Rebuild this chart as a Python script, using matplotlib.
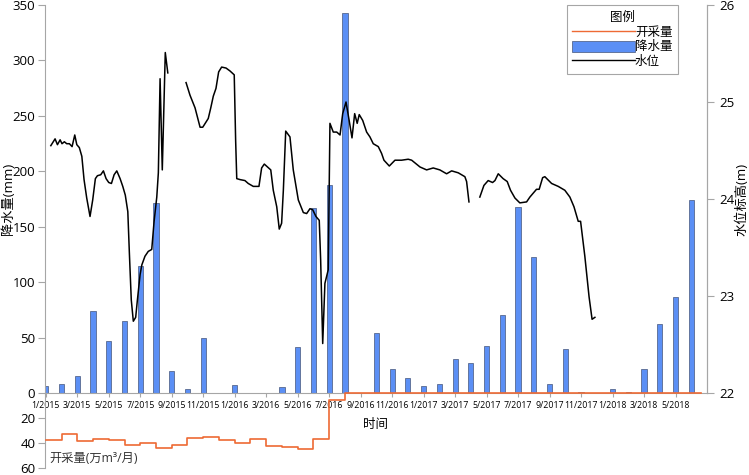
import numpy as np
import matplotlib
matplotlib.use('Agg')
import matplotlib.pyplot as plt
from matplotlib.lines import Line2D
from matplotlib.patches import Patch

plt.rcParams['font.family'] = ['Open Sans', 'Noto Sans CJK SC', 'DejaVu Sans']

# month index 0 = 1/2015
tick_labels = ['1/2015', '3/2015', '5/2015', '7/2015', '9/2015', '11/2015',
               '1/2016', '3/2016', '5/2016', '7/2016', '9/2016', '11/2016',
               '1/2017', '3/2017', '5/2017', '7/2017', '9/2017', '11/2017',
               '1/2018', '3/2018', '5/2018']

# monthly rainfall, 1/2015 .. 6/2018 (mm)
rain = [6.4, 8.5, 15.4, 74, 46.7, 65, 115, 171, 19.7, 3.7, 50, 0,
        7.6, 0, 0, 5, 41.6, 167, 187.5, 343, 0, 54.3, 22.1, 13.1,
        6.1, 7.7, 31.1, 27.2, 42.2, 70.6, 167.4, 122.3, 7.9, 39.3, 0.7, 0.2,
        3.4, 1.3, 22.1, 62.4, 86.8, 174.3]

# monthly extraction (10^4 m3/month)
pumping = [37.5, 33, 38.3, 36.5, 37.8, 41.5, 40, 44, 41.5, 36, 35, 37.5,
           39.6, 36.5, 42.3, 42.8, 45, 37, 5.5] + [0] * 23

# groundwater level (m), x in months since 1/2015
wl_seg1_x = [0.32, 0.59, 0.74, 0.91, 1.03, 1.18, 1.33, 1.50, 1.67, 1.84, 1.97,
             2.13, 2.29, 2.43, 2.60, 2.81, 2.98, 3.15, 3.28, 3.49, 3.66, 3.83,
             4.00, 4.17, 4.34, 4.51, 4.72, 4.89, 5.05, 5.21, 5.31, 5.43, 5.56,
             5.71, 5.82, 5.99, 6.10, 6.30, 6.51, 6.73, 6.88, 7.05, 7.15, 7.26,
             7.40, 7.59, 7.75]
wl_seg1_y = [24.55, 24.62, 24.56, 24.61, 24.57, 24.59, 24.57, 24.57, 24.54,
             24.66, 24.56, 24.53, 24.44, 24.20, 24.01, 23.82, 23.99, 24.21,
             24.24, 24.25, 24.29, 24.21, 24.17, 24.16, 24.25, 24.29, 24.21,
             24.13, 24.04, 23.87, 23.44, 22.96, 22.74, 22.78, 22.96, 23.22,
             23.32, 23.41, 23.46, 23.48, 23.77, 24.02, 24.27, 25.24, 24.30,
             25.51, 25.30]

wl_seg2_x = [8.91, 9.16, 9.48, 9.80, 9.97, 10.32, 10.48, 10.64, 10.81, 10.98,
             11.17, 11.45, 11.70, 11.97, 12.06, 12.13, 12.34, 12.65, 12.86,
             13.18, 13.54, 13.71, 13.88, 14.29, 14.45, 14.67, 14.83, 14.98,
             15.09, 15.24, 15.51, 15.72, 16.04, 16.36, 16.57, 16.78, 16.95,
             17.16, 17.37, 17.46, 17.59, 17.73, 17.94, 18.05, 18.26, 18.48,
             18.69, 18.86, 19.07, 19.28, 19.45, 19.62, 19.78, 19.91, 20.13,
             20.38, 20.59, 20.80, 21.12, 21.33, 21.48, 21.82, 22.18, 22.60,
             23.02, 23.24, 23.77, 24.19, 24.61, 25.03, 25.46, 25.78, 26.20,
             26.62, 26.73, 26.88]
wl_seg2_y = [25.20, 25.07, 24.94, 24.74, 24.74, 24.83, 24.94, 25.06, 25.14,
             25.31, 25.36, 25.35, 25.32, 25.28, 24.60, 24.21, 24.20, 24.19,
             24.16, 24.13, 24.13, 24.32, 24.36, 24.30, 24.09, 23.92, 23.69,
             23.75, 24.09, 24.70, 24.64, 24.30, 23.99, 23.86, 23.85, 23.90,
             23.89, 23.82, 23.78, 23.37, 22.51, 23.13, 23.27, 24.78, 24.69,
             24.69, 24.66, 24.88, 25.00, 24.80, 24.63, 24.88, 24.78, 24.87,
             24.81, 24.69, 24.64, 24.57, 24.54, 24.47, 24.40, 24.34, 24.40,
             24.40, 24.41, 24.40, 24.33, 24.30, 24.32, 24.30, 24.26, 24.29,
             24.27, 24.23, 24.18, 23.97]

wl_seg3_x = [27.57, 27.83, 28.10, 28.38, 28.53, 28.74, 29.05, 29.31, 29.52,
             29.80, 30.11, 30.54, 30.75, 30.96, 31.17, 31.34, 31.56, 31.70,
             32.13, 32.55, 32.97, 33.29, 33.55, 33.82, 33.97, 34.24, 34.51,
             34.70, 34.88]
wl_seg3_y = [24.02, 24.14, 24.19, 24.17, 24.19, 24.26, 24.21, 24.18, 24.09,
             24.01, 23.96, 23.97, 24.02, 24.06, 24.10, 24.10, 24.22, 24.23,
             24.16, 24.13, 24.09, 24.02, 23.92, 23.77, 23.77, 23.41, 22.99,
             22.76, 22.78]

orange = '#EE6A34'
blue = '#5B8FF5'
grey = '#A6A6A6'

months = np.arange(len(rain))

fig = plt.figure(figsize=(7.49, 4.75), dpi=100)
ax = fig.add_axes([45/749, 1-393/475, 662/749, 388/475])
ax_low = fig.add_axes([45/749, 1-468/475, 662/749, 75/475])
ax_low.patch.set_alpha(0)
ax2 = ax.twinx()

ax.bar(months, rain, width=0.33, color=blue, edgecolor='#45557A', linewidth=0.5)
ax.set_xlim(-0.05, 42)
ax.set_ylim(0, 350)
ax.set_yticks(range(0, 351, 50))
ax.set_xticks(range(0, 41, 2))
ax.set_xticklabels(tick_labels, fontsize=6.3)
ax.tick_params(axis='x', length=3, pad=2.5, color=grey)
ax.tick_params(axis='y', length=5, labelsize=9.5, color=grey, pad=2)
ax.set_ylabel('降水量(mm)', fontsize=9.5)
ax.yaxis.set_label_coords(-0.046, 0.5)
ax.set_xlabel('时间', fontsize=9, labelpad=6)
ax.spines['top'].set_visible(False)
for s in ['left', 'bottom', 'right']:
    ax.spines[s].set_color(grey)

ax2.plot(wl_seg1_x, wl_seg1_y, color='black', lw=1.1)
ax2.plot(wl_seg2_x, wl_seg2_y, color='black', lw=1.1)
ax2.plot(wl_seg3_x, wl_seg3_y, color='black', lw=1.1)
ax2.set_ylim(22, 26)
ax2.set_yticks([22, 23, 24, 25, 26])
ax2.tick_params(axis='y', length=5, labelsize=9.5, color=grey, pad=4)
ax2.set_ylabel('水位标高(m)', fontsize=9.5)
ax2.yaxis.set_label_coords(1.043, 0.5)
ax2.spines['top'].set_visible(False)
ax2.spines['right'].set_color(grey)
ax2.spines['left'].set_visible(False)
ax2.spines['bottom'].set_visible(False)

ax_low.step(list(months) + [41.6], pumping + [0], where='post', color=orange,
            lw=1.2, clip_on=False, zorder=5)
ax_low.set_xlim(-0.05, 42)
ax_low.set_ylim(60, 0)
ax_low.set_yticks([20, 40, 60])
ax_low.tick_params(axis='y', length=5, labelsize=9.5, color=grey, pad=2)
ax_low.set_xticks([])
for s in ['top', 'right', 'bottom']:
    ax_low.spines[s].set_visible(False)
ax_low.spines['left'].set_color(grey)
ax_low.text(0.2, 52.5, '开采量(万m³/月)', fontsize=8.8, color='#333333', va='center')

handles = [Line2D([], [], color=orange, lw=1),
           Patch(facecolor=blue, edgecolor='#45557A', linewidth=0.5),
           Line2D([], [], color='black', lw=1)]
leg = ax2.legend(handles, ['开采量', '降水量', '水位'], title='图例',
                 loc='upper right', bbox_to_anchor=(678/749, 1-5/475),
                 bbox_transform=fig.transFigure, borderaxespad=0,
                 fontsize=9, title_fontsize=9, handlelength=5.0,
                 handleheight=1.0, handletextpad=0.0, labelspacing=0.15,
                 borderpad=0.45, fancybox=False, framealpha=1, edgecolor=grey)
leg.get_frame().set_linewidth(0.8)

fig.savefig('out.png', dpi=100)
